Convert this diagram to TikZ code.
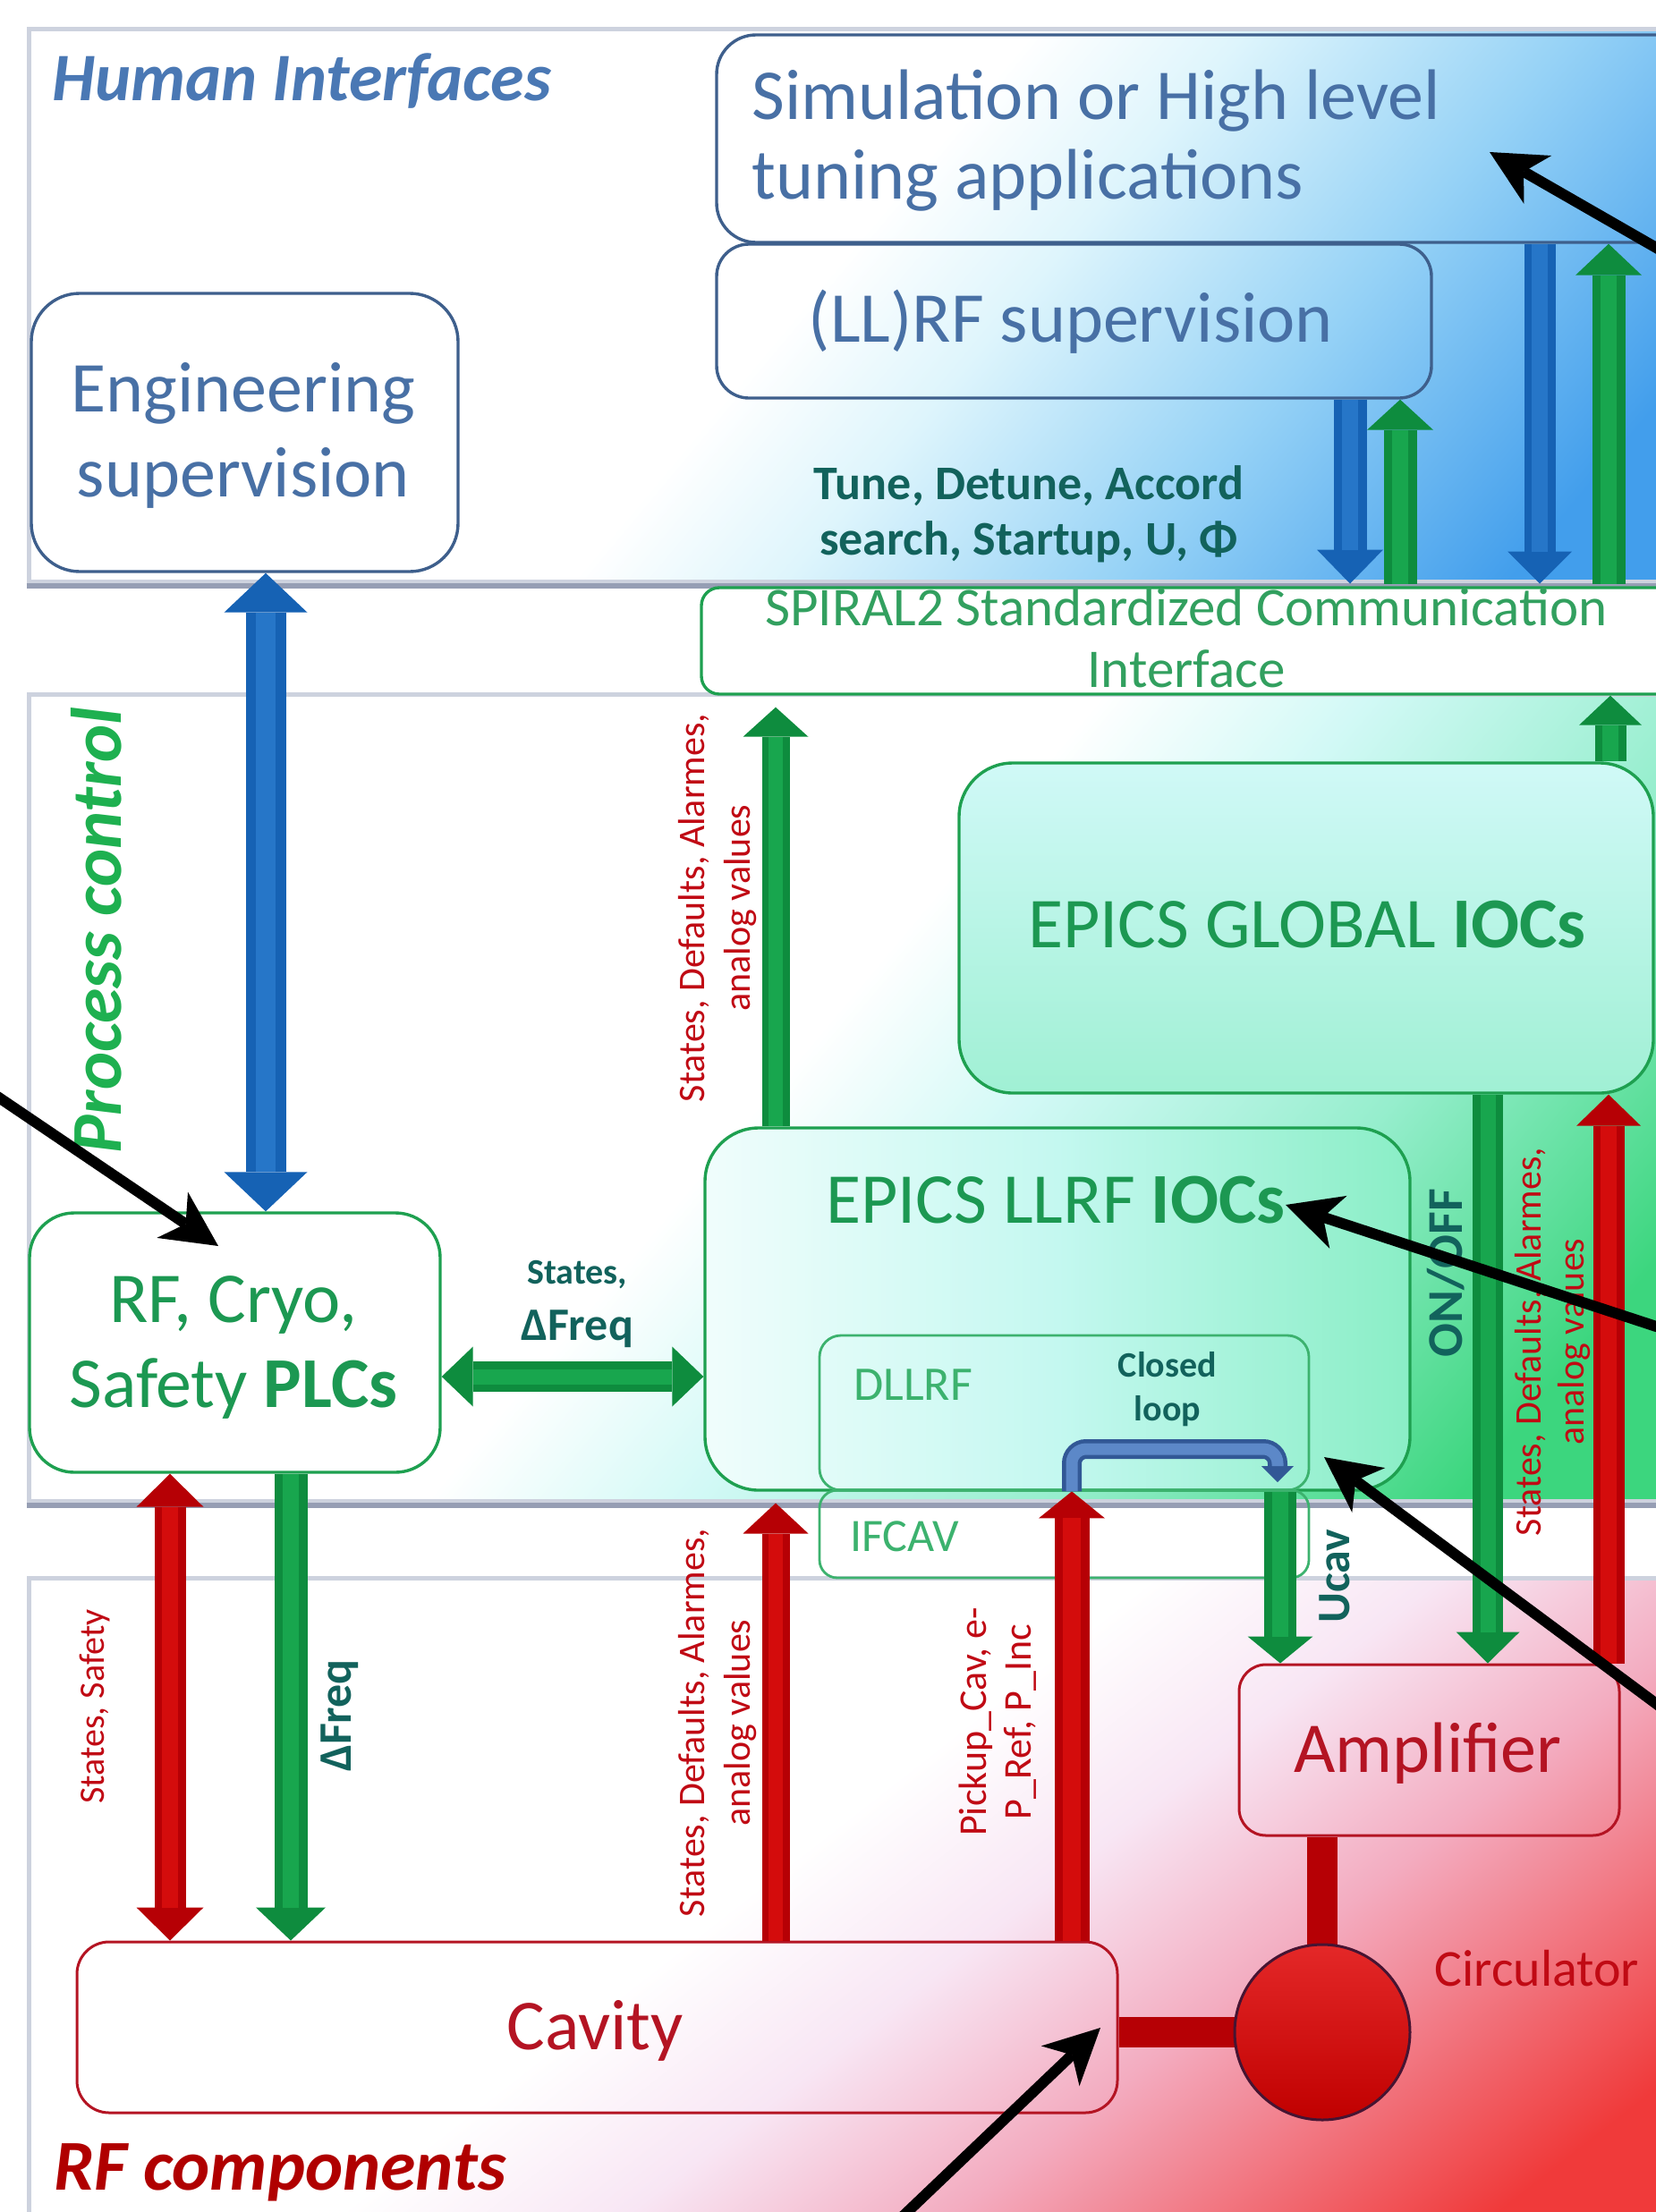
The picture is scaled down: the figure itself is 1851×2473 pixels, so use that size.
\documentclass[tikz,border=0pt]{standalone}
\usepackage{fontspec}
\setmainfont{Carlito}
\usetikzlibrary{arrows.meta,calc}
\definecolor{hiblue}{RGB}{74,120,180}
\definecolor{boxblue}{RGB}{62,95,140}
\definecolor{txtblue}{RGB}{72,112,165}
\definecolor{lteal}{RGB}{18,98,92}
\definecolor{pcgreen}{RGB}{30,176,80}
\definecolor{boxgreen}{RGB}{30,160,80}
\definecolor{txtgreen}{RGB}{28,152,82}
\definecolor{lgreen}{RGB}{60,178,110}
\definecolor{spgreen}{RGB}{50,160,95}
\definecolor{labred}{RGB}{192,10,20}
\definecolor{boxred}{RGB}{180,20,35}
\definecolor{rfred}{RGB}{176,0,0}
\definecolor{ablue}{RGB}{22,98,180}
\definecolor{agreen}{RGB}{14,140,62}
\definecolor{ared}{RGB}{182,0,5}
\definecolor{hblue}{RGB}{38,118,200}
\definecolor{hgreen}{RGB}{24,166,78}
\definecolor{hred}{RGB}{212,12,12}
\definecolor{panelgray}{RGB}{205,210,222}
\definecolor{panelshadow}{RGB}{150,158,180}
\definecolor{hione}{RGB}{222,245,252}
\definecolor{himid}{RGB}{150,210,246}
\definecolor{hitwo}{RGB}{66,158,236}
\definecolor{pcone}{RGB}{210,249,246}
\definecolor{pcmid}{RGB}{150,238,205}
\definecolor{pctwo}{RGB}{60,214,126}
\definecolor{rfone}{RGB}{248,230,244}
\definecolor{rfmid}{RGB}{243,172,192}
\definecolor{rftwo}{RGB}{240,58,58}
\definecolor{loopdark}{RGB}{50,88,150}
\definecolor{looplight}{RGB}{92,136,200}
\pgfdeclarehorizontalshading{shhi}{100bp}{color(0bp)=(white); color(48bp)=(white); color(55bp)=(hione); color(66bp)=(himid); color(79bp)=(hitwo); color(100bp)=(hitwo)}
\pgfdeclarehorizontalshading{shpc}{100bp}{color(0bp)=(white); color(47bp)=(white); color(55bp)=(pcone); color(66bp)=(pcmid); color(78bp)=(pctwo); color(100bp)=(pctwo)}
\pgfdeclarehorizontalshading{shrf}{100bp}{color(0bp)=(white); color(46bp)=(white); color(54bp)=(rfone); color(63bp)=(rfmid); color(78bp)=(rftwo); color(100bp)=(rftwo)}
\newcommand\myfs[2]{\fontsize{#1}{#2}\selectfont}
\begin{document}
\begin{tikzpicture}[x=0.5pt,y=-0.5pt,
  tx/.style={inner sep=0pt},
  panel/.style={draw=panelgray, line width=2.5pt, rectangle, inner sep=0pt},
  bbox/.style={draw=boxblue, line width=1.7pt, rectangle, inner sep=0pt},
  gbox/.style={draw=boxgreen, line width=1.7pt, rectangle, inner sep=0pt},
  dbox/.style={draw=lgreen, line width=1.4pt, rectangle, inner sep=0pt},
  rbox/.style={draw=boxred, line width=1.5pt, rectangle, inner sep=0pt},
  blk/.style n args={5}{draw=#1, line width=#2, -{Triangle[width=#3,length=#4,line width=0pt]},
     postaction={draw=#5, line width=0.5*#2, -, shorten >=#4}},
  dblk/.style n args={5}{draw=#1, line width=#2, {Triangle[width=#3,length=#4,line width=0pt]}-{Triangle[width=#3,length=#4,line width=0pt]},
     postaction={draw=#5, line width=0.5*#2, -, shorten >=#4, shorten <=#4}},
  pointer/.style={draw=black, line width=6pt, -{Stealth[length=31pt,width=31pt,inset=9pt,line width=0pt]}},
  bar/.style={draw=ared, line width=17pt}
]
\useasboundingbox (0,0) rectangle (1851,2473);
\fill[white] (0,0) rectangle (1851,2473);

% panel shadings
\shade[shading=shhi, shading angle=-40] (32,32) rectangle (1900,650);
\shade[shading=shpc, shading angle=-40] (32,776) rectangle (1900,1678);
\shade[shading=shrf, shading angle=-52] (32,1764) rectangle (1900,2520);

% panels
\node[panel, minimum width=934pt, minimum height=309pt] (p1) at (966,341) {};
\node[panel, minimum width=934pt, minimum height=451pt] (p2) at (966,1227) {};
\node[panel, minimum width=934pt, minimum height=398pt] (p3) at (966,2162) {};
\draw[panelshadow, line width=3pt] ([yshift=-1pt]p1.south west) -- ([yshift=-1pt]p1.south east);
\draw[panelshadow, line width=3pt] ([yshift=-1pt]p2.south west) -- ([yshift=-1pt]p2.south east);

% boxes
\node[bbox, fill=white, rounded corners=27pt, minimum width=238.5pt, minimum height=155.5pt] (eng) at (273.5,483.5) {};
\node[bbox, rounded corners=22pt, minimum width=549.5pt, minimum height=116pt] (sim) at (1350.5,155) {};
\node[bbox, rounded corners=18pt, minimum width=399.5pt, minimum height=86pt] (llrfsup) at (1200.5,359) {};
\node[gbox, fill=white, rounded corners=10pt, minimum width=558pt, minimum height=59.5pt] (spiral) at (1342,716.5) {};
\node[gbox, top color={rgb,255:red,208;green,249;blue,247}, bottom color={rgb,255:red,160;green,240;blue,212}, rounded corners=30pt, minimum width=388pt, minimum height=184.5pt] (glob) at (1460,1037.5) {};
\node[gbox, left color={rgb,255:red,240;green,253;blue,252}, right color={rgb,255:red,138;green,238;blue,198}, middle color={rgb,255:red,196;green,248;blue,240}, rounded corners=30pt, minimum width=394pt, minimum height=202.5pt] (llrf) at (1182,1463.5) {};
\node[dbox, rounded corners=12pt, minimum width=273.5pt, minimum height=86.5pt] (dllrf) at (1189.5,1579.5) {};
\node[dbox, rounded corners=10pt, minimum width=273.5pt, minimum height=49pt] (ifcav) at (1189.5,1715) {};
\node[gbox, fill=white, rounded corners=25pt, minimum width=229.5pt, minimum height=145pt] (plc) at (262.5,1501) {};
\node[rbox, rounded corners=18pt, minimum width=581.5pt, minimum height=95.5pt] (cav) at (667.5,2266.5) {};
\node[rbox, rounded corners=15pt, minimum width=212.5pt, minimum height=95.5pt] (amp) at (1597.5,1956.5) {};

% block arrows
\coordinate (g1tip) at ($(867,0 |- spiral.south)+(0,13)$);
\draw[blk={ablue}{18.5pt}{37pt}{19pt}{hblue}] (1509,0 |- llrfsup.south) -- (1509,0 |- p1.south);
\draw[blk={agreen}{18.5pt}{37pt}{17pt}{hgreen}] (1565,0 |- p1.south) -- (1565,0 |- llrfsup.south);
\draw[blk={ablue}{17.5pt}{36pt}{18pt}{hblue}] (1721,0 |- sim.south) -- (1721,0 |- p1.south);
\draw[blk={agreen}{18.5pt}{37pt}{17.5pt}{hgreen}] (1798,0 |- p1.south) -- (1798,0 |- sim.south);
\draw[dblk={ablue}{22.5pt}{46.5pt}{22pt}{hblue}] (297,0 |- eng.south) -- (297,0 |- plc.north);
\draw[blk={agreen}{15.5pt}{36.5pt}{16.5pt}{hgreen}] (867,0 |- llrf.north) -- (g1tip);
\draw[blk={agreen}{17.5pt}{35pt}{16.5pt}{hgreen}] (1800,0 |- glob.north) -- (1800,0 |- spiral.south);
\draw[dblk={agreen}{17pt}{33.5pt}{17.5pt}{hgreen}] (plc.east |- 0,1539) -- (llrf.west |- 0,1539);
\draw[dblk={ared}{17.5pt}{37.5pt}{18.5pt}{hred}] (190,0 |- plc.south) -- (190,0 |- cav.north);
\draw[blk={agreen}{18.5pt}{39pt}{18.5pt}{hgreen}] (325,0 |- plc.south) -- (325,0 |- cav.north);
\draw[blk={ared}{15.5pt}{36.5pt}{17pt}{hred}] (867,0 |- cav.north) -- (867,0 |- p2.south);
\draw[blk={ared}{19.5pt}{37pt}{15pt}{hred}] (1198,0 |- cav.north) -- (1198,0 |- dllrf.south);
\draw[blk={agreen}{18pt}{36.5pt}{15pt}{hgreen}] (1431,0 |- llrf.south) -- (1431,0 |- amp.north);
\draw[blk={agreen}{17pt}{35.5pt}{17.5pt}{hgreen}] (1663,0 |- glob.south) -- (1663,0 |- amp.north);
\draw[blk={ared}{17.5pt}{36pt}{17.5pt}{hred}] (1798,0 |- amp.north) -- (1798,0 |- glob.south);

% closed loop
\coordinate (cltip) at (1428,1657);
\draw[draw=loopdark, line width=11pt, rounded corners=8pt, -{Triangle[width=18pt,length=9pt,line width=0pt]}] (1198,0 |- dllrf.south) -- (1198,1620) -- (1428,1620) -- (cltip);
\draw[draw=looplight, line width=6.5pt, rounded corners=8pt, shorten >=9pt] (1198,0 |- dllrf.south) -- (1198,1620) -- (1428,1620) -- (cltip);

% RF bars and circulator
\coordinate (circc) at (1478,2272);
\draw[bar] (circc |- amp.south) -- (circc);
\draw[bar] (cav.east |- circc) -- (circc);
\node[circle, minimum size=98pt, inner sep=0pt, draw={rgb,255:red,70;green,20;blue,50}, line width=1.5pt, top color={rgb,255:red,228;green,40;blue,40}, bottom color={rgb,255:red,192;green,0;blue,0}] (circ) at (circc) {};

% texts
\node[tx, anchor=base west, text=hiblue, font={\myfs{38pt}{46pt}\bfseries\itshape}] (thi) at (58,112) {Human Interfaces};
\node[tx, anchor=base, text=txtblue, font={\myfs{40pt}{48pt}}] (teng1) at (272,460) {Engineering};
\node[tx, anchor=base, text=txtblue, font={\myfs{40pt}{48pt}}] (teng2) at (272,555) {supervision};
\node[tx, anchor=base west, text=txtblue, font={\myfs{40pt}{48pt}}] (tsim1) at (840,133) {Simulation or High level};
\node[tx, anchor=base west, text=txtblue, font={\myfs{40pt}{48pt}}] (tsim2) at (840,222) {tuning applications};
\node[tx, anchor=base, text=txtblue, font={\myfs{40pt}{48pt}}] (tsup) at (1197,382) {(LL)RF supervision};
\node[tx, anchor=base, text=lteal, font={\myfs{27pt}{32pt}\bfseries}] (ttune1) at (1150,558) {Tune, Detune, Accord};
\node[tx, anchor=base, text=lteal, font={\myfs{27pt}{32pt}\bfseries}] (ttune2) at (1150,620) {search, Startup, U, Φ};
\node[tx, anchor=base, text=spgreen, font={\myfs{30.5pt}{36pt}}] (tsp1) at (1326,699) {SPIRAL2 Standardized Communication};
\node[tx, anchor=base, text=spgreen, font={\myfs{30.5pt}{36pt}}] (tsp2) at (1326,768) {Interface};
\node[tx, anchor=base, rotate=90, text=pcgreen, font={\myfs{40pt}{48pt}\bfseries\itshape}] (tpc) at (135,1040) {Process control};
\node[tx, rotate=90, align=center, text=labred, font={\myfs{21pt}{25.5pt}}] (tl1) at (802,1015) {States, Defaults, Alarmes,\\analog values};
\node[tx, anchor=base, text=txtgreen, font={\myfs{40pt}{48pt}}] (tglob) at (1461,1059) {EPICS GLOBAL \textbf{IOCs}};
\node[tx, anchor=base, text=txtgreen, font={\myfs{40pt}{48pt}}] (tllrf) at (1180,1367) {EPICS LLRF \textbf{IOCs}};
\node[tx, anchor=base, text=txtgreen, font={\myfs{40pt}{48pt}}] (tplc1) at (261,1478) {RF, Cryo,};
\node[tx, anchor=base, text=txtgreen, font={\myfs{40pt}{48pt}}] (tplc2) at (261,1573) {Safety \textbf{PLCs}};
\node[tx, anchor=base, text=lteal, font={\myfs{20pt}{24pt}\bfseries}] (tst1) at (645,1435) {States,};
\node[tx, anchor=base, text=lteal, font={\myfs{26pt}{31pt}\bfseries}] (tst2) at (645,1498) {ΔFreq};
\node[tx, anchor=base west, text=lgreen, font={\myfs{27pt}{32pt}}] (tdl) at (954,1565) {DLLRF};
\node[tx, anchor=base, text=lteal, font={\myfs{20pt}{24pt}\bfseries}] (tcl1) at (1305,1539) {Closed};
\node[tx, anchor=base, text=lteal, font={\myfs{20pt}{24pt}\bfseries}] (tcl2) at (1305,1588) {loop};
\node[tx, anchor=base west, text=lgreen, font={\myfs{26pt}{31pt}}] (tif) at (950,1734) {IFCAV};
\node[tx, rotate=90, text=lteal, font={\myfs{26pt}{31pt}\bfseries}] (tucav) at (1492,1762) {Ucav};
\node[tx, rotate=90, text=lteal, font={\myfs{28pt}{33pt}\bfseries}] (tonoff) at (1616,1423) {ON/OFF};
\node[tx, rotate=90, align=center, text=labred, font={\myfs{21pt}{24pt}}] (tl3) at (1736,1500) {States, Defaults, Alarmes,\\analog values};
\node[tx, anchor=base, text=boxred, font={\myfs{40pt}{48pt}}] (tamp) at (1596,1981) {Amplifier};
\node[tx, anchor=base west, text=labred, font={\myfs{29pt}{35pt}}] (tcirc) at (1603,2220) {Circulator};
\node[tx, anchor=base, text=boxred, font={\myfs{40pt}{48pt}}] (tcav) at (665,2291) {Cavity};
\node[tx, anchor=base west, text=rfred, font={\myfs{40pt}{48pt}\bfseries\itshape}] (trf) at (60,2448) {RF components};
\node[tx, rotate=90, text=labred, font={\myfs{20pt}{24pt}}] (tss) at (106,1908) {States, Safety};
\node[tx, rotate=90, text=lteal, font={\myfs{26pt}{31pt}\bfseries}] (tdf) at (380,1918) {ΔFreq};
\node[tx, rotate=90, align=center, text=labred, font={\myfs{22pt}{25pt}}] (tpick) at (1115,1925) {Pickup\_Cav, e-\\P\_Ref, P\_Inc};
\node[tx, rotate=90, align=center, text=labred, font={\myfs{21pt}{25.5pt}}] (tl2) at (802,1926) {States, Defaults, Alarmes,\\analog values};

% pointers
\coordinate (pA0) at (1900,305); \coordinate (pA1) at (1665,170);
\coordinate (pB0) at (-50,1194); \coordinate (pB1) at (244,1393);
\coordinate (pC0) at (1900,1499); \coordinate (pC1) at (1437,1347);
\coordinate (pD0) at (1900,1941); \coordinate (pD1) at (1480,1629);
\coordinate (pE0) at (990,2496); \coordinate (pE1) at (1230,2267);
\draw[pointer] (pA0) -- (pA1);
\draw[pointer] (pB0) -- (pB1);
\draw[pointer] (pC0) -- (pC1);
\draw[pointer] (pD0) -- (pD1);
\draw[pointer] (pE0) -- (pE1);
\end{tikzpicture}
\end{document}
